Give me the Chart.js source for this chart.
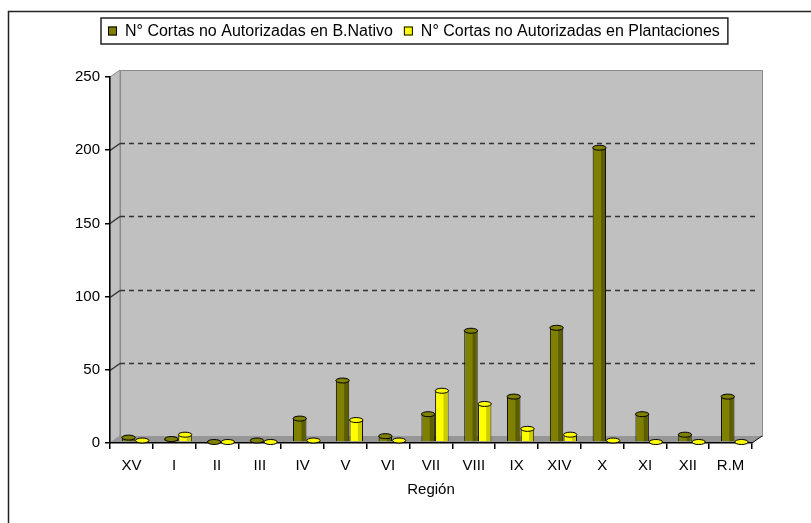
<!DOCTYPE html>
<html>
<head>
<meta charset="utf-8">
<script src="https://cdn.jsdelivr.net/npm/chart.js@4.4.1/dist/chart.umd.min.js"></script>
<style>
	html, body { margin: 0; padding: 0; background: #fff; }
	#wrap { width: 811px; height: 523px; }
</style>
</head>
<body>
<div id="wrap"><canvas id="cortasChart" width="811" height="523"></canvas></div>
<script>
const regiones = ['XV', 'I', 'II', 'III', 'IV', 'V', 'VI', 'VII', 'VIII', 'IX', 'XIV', 'X', 'XI', 'XII', 'R.M'];
const cortasNativo = [3, 2, 0, 1, 16, 42, 4, 19, 76, 31, 78, 201, 19, 5, 31];
const cortasPlantaciones = [1, 5, 0, 0, 1, 15, 1, 35, 26, 9, 5, 1, 0, 0, 0];
const ticksY = [0, 50, 100, 150, 200, 250];
const seriesLabels = ['N° Cortas no Autorizadas en B.Nativo', 'N° Cortas no Autorizadas en Plantaciones'];

const fontFamily = '"Liberation Sans", Arial, sans-serif';
const depth = { x: 10, y: -7 };
const barShift = { x: 4, y: -1 };
const colors = {
	nativo: '#808000',
	nativoDark: '#5c5c00',
	plant: '#ffff00',
	plantDark: '#cccc00',
	wall: '#c0c0c0',
	floor: '#969696'
};

// walls, floor, dashed grid and the frame round the whole chart
const backdrop = {
	id: 'backdrop',
	beforeDraw(chart) {
		const { ctx, chartArea: a, scales: { y } } = chart;
		ctx.save();
		ctx.fillStyle = '#fff';
		ctx.fillRect(0, 0, chart.width, chart.height);

		ctx.strokeStyle = '#222';
		ctx.lineWidth = 1.5;
		ctx.beginPath();
		ctx.moveTo(8.5, chart.height);
		ctx.lineTo(8.5, 11.5);
		ctx.lineTo(chart.width, 11.5);
		ctx.stroke();

		// left wall
		ctx.fillStyle = colors.wall;
		ctx.beginPath();
		ctx.moveTo(a.left, a.top);
		ctx.lineTo(a.left + depth.x, a.top + depth.y);
		ctx.lineTo(a.left + depth.x, a.bottom + depth.y);
		ctx.lineTo(a.left, a.bottom);
		ctx.closePath();
		ctx.fill();
		ctx.strokeStyle = '#8a8a8a';
		ctx.lineWidth = 1;
		ctx.stroke();

		// back wall
		ctx.fillStyle = colors.wall;
		ctx.fillRect(a.left + depth.x, a.top + depth.y, a.width, a.height);
		ctx.strokeRect(a.left + depth.x + 0.5, a.top + depth.y + 0.5, a.width, a.height);

		// floor
		ctx.fillStyle = colors.floor;
		ctx.beginPath();
		ctx.moveTo(a.left, a.bottom);
		ctx.lineTo(a.right, a.bottom);
		ctx.lineTo(a.right + depth.x, a.bottom + depth.y);
		ctx.lineTo(a.left + depth.x, a.bottom + depth.y);
		ctx.closePath();
		ctx.fill();
		ctx.strokeStyle = '#000';
		ctx.beginPath();
		ctx.moveTo(a.right, a.bottom);
		ctx.lineTo(a.right + depth.x, a.bottom + depth.y);
		ctx.stroke();

		// dashed gridlines on the back wall
		ctx.strokeStyle = '#333';
		ctx.lineWidth = 1.5;
		ticksY.slice(1, -1).forEach(v => {
			const py = Math.round(y.getPixelForValue(v)) + 0.5;
			ctx.setLineDash([]);
			ctx.beginPath();
			ctx.moveTo(a.left, py);
			ctx.lineTo(a.left + depth.x, py + depth.y);
			ctx.stroke();
			ctx.setLineDash([5, 4]);
			ctx.beginPath();
			ctx.moveTo(a.left + depth.x, py + depth.y);
			ctx.lineTo(a.right + depth.x - 4, py + depth.y);
			ctx.stroke();
		});
		ctx.restore();
	},
	beforeDatasetsDraw(chart) {
		chart.ctx.save();
		chart.ctx.translate(barShift.x, barShift.y);
	},
	afterDatasetsDraw(chart) {
		const { ctx } = chart;
		// shaded right side and top cap of each column
		chart.data.datasets.forEach((ds, i) => {
			const meta = chart.getDatasetMeta(i);
			const dark = i === 0 ? colors.nativoDark : colors.plantDark;
			meta.data.forEach(bar => {
				const { x, y, base, width } = bar.getProps(['x', 'y', 'base', 'width'], true);
				const h = base - y;
				if (h > 2) {
					ctx.fillStyle = dark;
					ctx.fillRect(x + width * 0.12, y + 1, width * 0.3, h - 1);
				}
				ctx.fillStyle = ds.backgroundColor;
				ctx.strokeStyle = '#000';
				ctx.lineWidth = 1;
				ctx.beginPath();
				ctx.ellipse(x, y, width / 2, 2.5, 0, 0, Math.PI * 2);
				ctx.fill();
				ctx.stroke();
			});
		});
		ctx.restore();

		// legend with its box
		ctx.save();
		ctx.font = '16px ' + fontFamily;
		ctx.textBaseline = 'middle';
		ctx.fillStyle = '#000';
		const top = 18, h = 26, cy = top + h / 2;
		let cx = 101;
		const left = cx;
		seriesLabels.forEach((label, i) => {
			cx += i === 0 ? 7 : 11;
			ctx.fillStyle = i === 0 ? colors.nativo : colors.plant;
			ctx.fillRect(cx, cy - 4.5, 9, 9);
			ctx.strokeStyle = '#000';
			ctx.lineWidth = 1;
			ctx.strokeRect(cx + 0.5, cy - 4, 8, 8);
			cx += 17;
			ctx.fillStyle = '#000';
			ctx.fillText(label, cx, cy + 1);
			cx += ctx.measureText(label).width;
		});
		ctx.strokeStyle = '#222';
		ctx.lineWidth = 1.5;
		ctx.strokeRect(left, top, cx + 8 - left, h);
		ctx.restore();
	}
};

new Chart(document.getElementById('cortasChart'), {
	type: 'bar',
	data: {
		labels: regiones,
		datasets: [
			{
				label: seriesLabels[0],
				data: cortasNativo,
				backgroundColor: colors.nativo,
				borderColor: '#000',
				borderWidth: 1,
				barPercentage: 0.98,
				categoryPercentage: 0.64
			},
			{
				label: seriesLabels[1],
				data: cortasPlantaciones,
				backgroundColor: colors.plant,
				borderColor: '#000',
				borderWidth: 1,
				barPercentage: 0.98,
				categoryPercentage: 0.64
			}
		]
	},
	options: {
		responsive: false,
		animation: false,
		layout: { padding: { top: 77, right: 59, bottom: 0, left: 0 } },
		plugins: { legend: { display: false }, tooltip: { enabled: false } },
		scales: {
			x: {
				afterFit: scale => { scale.height = 80; },
				grid: { drawOnChartArea: false, color: '#000', tickLength: 6, lineWidth: 1.5 },
				border: { color: '#000', width: 1.5 },
				ticks: { color: '#000', padding: 8, font: { family: fontFamily, size: 15 }, maxRotation: 0 },
				title: { display: true, text: 'Región', color: '#000', font: { family: fontFamily, size: 15 }, padding: { top: 0, bottom: 24 } }
			},
			y: {
				min: ticksY[0],
				max: ticksY[ticksY.length - 1],
				afterFit: scale => { scale.width = 110; },
				afterBuildTicks: scale => { scale.ticks = ticksY.map(v => ({ value: v })); },
				grid: { drawOnChartArea: false, color: '#000', tickLength: 5, lineWidth: 1.5 },
				border: { color: '#000', width: 1.5 },
				ticks: { color: '#000', padding: 5, font: { family: fontFamily, size: 15 } }
			}
		}
	},
	plugins: [backdrop]
});
</script>
</body>
</html>
